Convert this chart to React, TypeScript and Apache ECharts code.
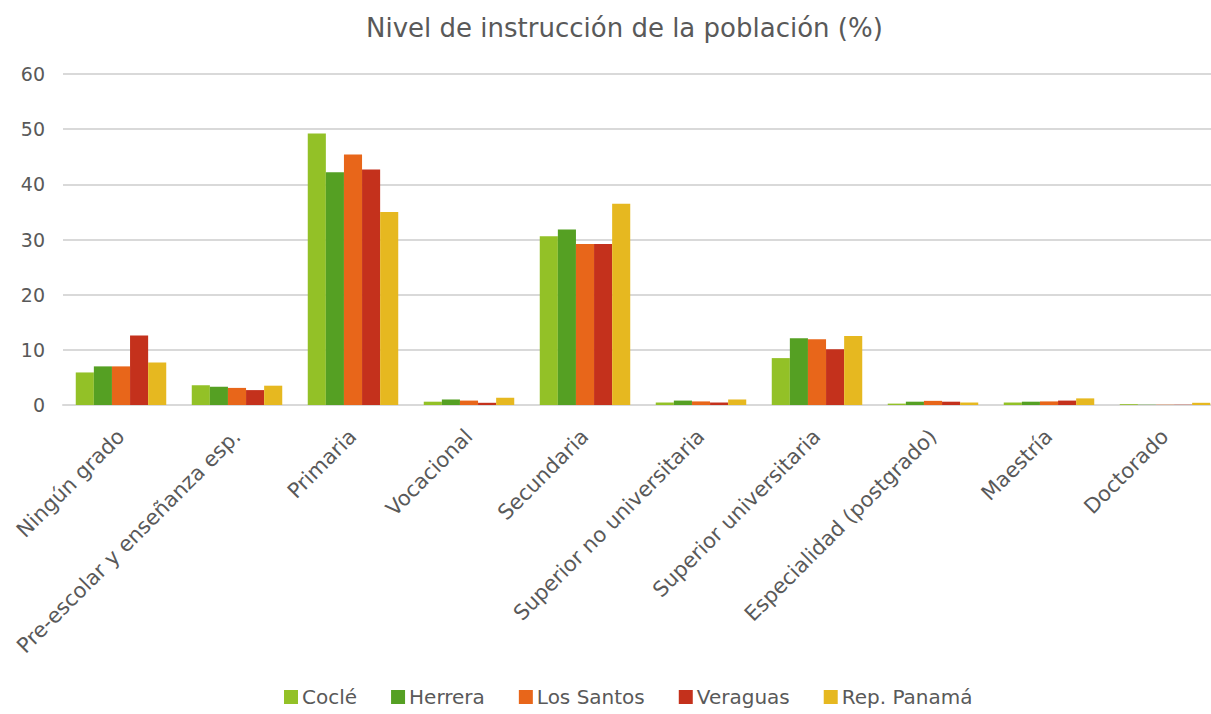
import React, { useEffect, useRef } from "react";
import * as echarts from "echarts";

const categories = [
  "Ningún grado",
  "Pre-escolar y enseñanza esp.",
  "Primaria",
  "Vocacional",
  "Secundaria",
  "Superior no universitaria",
  "Superior universitaria",
  "Especialidad (postgrado)",
  "Maestría",
  "Doctorado",
];

const cocle = [5.9, 3.6, 49.2, 0.6, 30.6, 0.45, 8.5, 0.25, 0.45, 0.15];
const herrera = [7.0, 3.3, 42.2, 1.0, 31.8, 0.8, 12.1, 0.6, 0.6, 0.05];
const losSantos = [7.0, 3.1, 45.4, 0.8, 29.2, 0.65, 11.9, 0.75, 0.65, 0.05];
const veraguas = [12.6, 2.7, 42.7, 0.4, 29.2, 0.45, 10.1, 0.6, 0.8, 0.05];
const panama = [7.7, 3.5, 35.0, 1.3, 36.5, 1.0, 12.5, 0.45, 1.2, 0.4];

const seriesNames = ["Coclé", "Herrera", "Los Santos", "Veraguas", "Rep. Panamá"];
const seriesData = [cocle, herrera, losSantos, veraguas, panama];
const colors = ["#93c127", "#55a023", "#e8661a", "#c4311c", "#e6b820"];

const FONT = "'DejaVu Sans', sans-serif";
const TEXT = "#595959";

export default function App() {
  const ref = useRef<HTMLDivElement>(null);
  useEffect(() => {
    document.body.style.margin = "0";
    const chart = echarts.init(ref.current!, null, { renderer: "svg" });
    chart.setOption({
      animation: false,
      color: colors,
      title: {
        text: "Nivel de instrucción de la población (%)",
        left: 361,
        top: 10,
        textStyle: { fontFamily: FONT, fontSize: 26, fontWeight: "normal", color: TEXT },
      },
      legend: {
        bottom: 2,
        left: 279,
        itemWidth: 14,
        itemHeight: 14,
        itemGap: 34,
        icon: "rect",
        textStyle: { fontFamily: FONT, fontSize: 20, color: TEXT, padding: [0, 0, 0, -1] },
        data: seriesNames,
      },
      grid: {
        left: 63,
        top: 74,
        width: 1160,
        height: 331,
        containLabel: false,
        outerBoundsMode: "none",
      },
      xAxis: {
        type: "category",
        data: categories,
        axisLine: { lineStyle: { color: "#d9d9d9", width: 2 } },
        axisTick: { show: false },
        axisLabel: {
          rotate: 45,
          interval: 0,
          margin: 28,
          fontFamily: FONT,
          fontSize: 21,
          color: TEXT,
        },
      },
      yAxis: {
        type: "value",
        min: 0,
        max: 60,
        interval: 10,
        axisLine: { show: false },
        axisTick: { show: false },
        splitLine: { lineStyle: { color: "#d9d9d9", width: 2 } },
        axisLabel: { fontFamily: FONT, fontSize: 19, color: TEXT, margin: 18 },
      },
      series: seriesNames.map((name, i) => ({
        name,
        type: "bar",
        data: seriesData[i],
        barGap: "0%",
        barCategoryGap: "22%",
        itemStyle: { color: colors[i] },
      })),
    });
    return () => chart.dispose();
  }, []);
  return <div ref={ref} style={{ width: 1211, height: 714, overflow: "hidden" }} />;
}
